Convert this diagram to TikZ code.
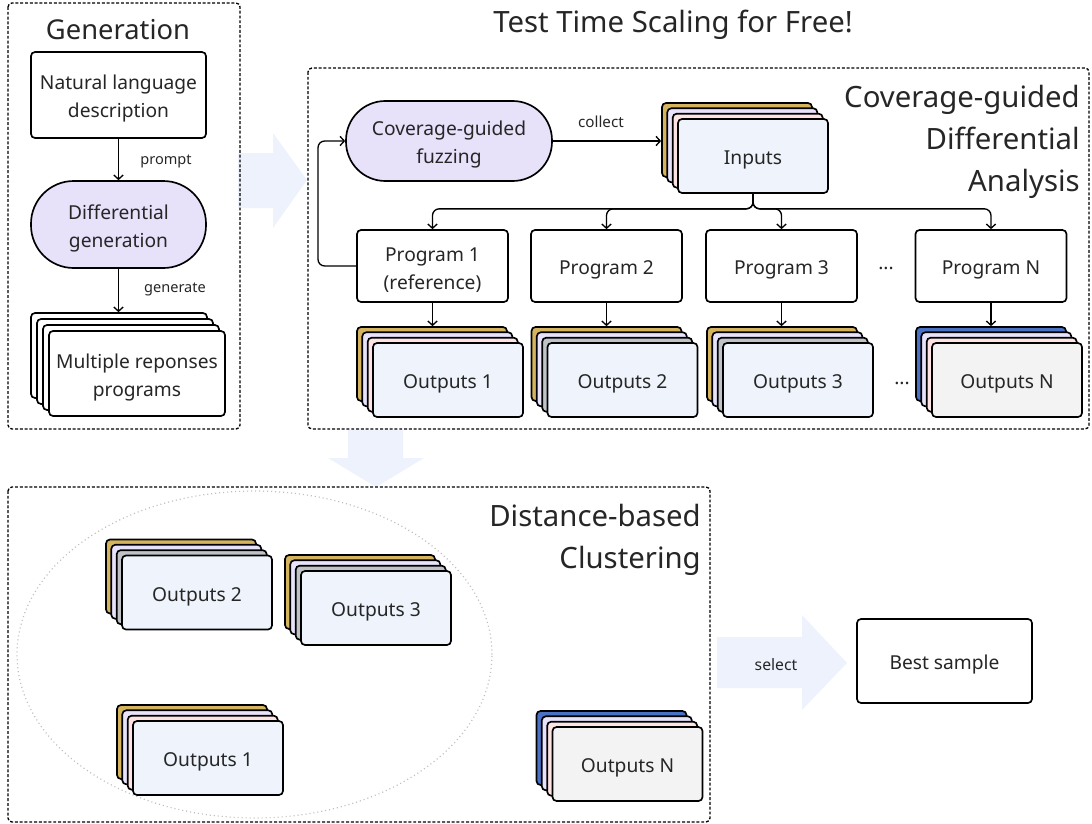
\documentclass[tikz,border=0pt]{standalone}
\usepackage{fontspec}
\setmainfont{Noto Sans}
\usetikzlibrary{arrows.meta}
\definecolor{txt}{HTML}{262626}
\definecolor{gold}{HTML}{D4B45E}
\definecolor{lav}{HTML}{E8E2FA}
\definecolor{pinkl}{HTML}{FDE3E3}
\definecolor{grayl}{HTML}{BFC2C7}
\definecolor{bluel}{HTML}{4A72C4}
\definecolor{front}{HTML}{EEF3FC}
\definecolor{frontg}{HTML}{F3F3F3}
\definecolor{stad}{HTML}{E7E1FA}
\definecolor{bigarrow}{HTML}{EEF2FC}
\newcommand{\boxfont}{\fontsize{14.4}{21}\selectfont}
\newcommand{\lblfont}{\fontsize{10.9}{12}\selectfont}
\newcommand{\ttlfont}{\fontsize{22}{31.5}\selectfont}
\newcommand{\mystrut}{\rule{0pt}{16.6pt}}
% stack: name, cx, cy (front centre), back colour, mid colour, third colour, front colour, text
\newcommand{\outstack}[8]{%
  \node[layer, fill=#4] (#1b) at (#2-16,#3-16) {};
  \node[layer, fill=#5] at (#2-10.7,#3-10.7) {};
  \node[layer, fill=#6] at (#2-5.3,#3-5.3) {};
  \node[layer, fill=#7] (#1) at (#2,#3) {\mystrut #8};
}
\begin{document}
\begin{tikzpicture}[x=0.75pt,y=-0.75pt,
  every node/.style={text=txt},
  panel/.style={draw=black, line width=1pt, dash pattern=on 2.2pt off 1.4pt, rounded corners=3pt},
  layer/.style={draw=black, line width=1.25pt, rounded corners=3pt, minimum width=112.5pt, minimum height=55.5pt, inner sep=0pt, font=\boxfont},
  mlayer/.style={draw=black, fill=white, line width=1.25pt, rounded corners=3pt, minimum width=132pt, minimum height=63.75pt, inner sep=0pt, font=\boxfont, align=center},
  wbox/.style={draw=black, fill=white, line width=1.25pt, rounded corners=3pt, inner sep=0pt, font=\boxfont, align=center},
  stadium/.style={draw=black, fill=stad, line width=1.25pt, inner sep=0pt, font=\boxfont, align=center},
  arr/.style={draw=black, line width=1pt, -{Straight Barb[length=3.2pt,width=7pt,line width=1pt]}},
  lbl/.style={font=\lblfont, inner sep=0pt},
  bigarr/.style={fill=bigarrow, draw=none}
]
\useasboundingbox (0,0) rectangle (1092,824);

% big pale arrows
\fill[bigarr] (238,153) -- (273,153) -- (273,133) -- (307,180) -- (273,228) -- (273,208) -- (238,208) -- cycle;
\fill[bigarr] (348,430) -- (403,430) -- (403,458) -- (424,458) -- (376,487) -- (328,458) -- (348,458) -- cycle;
\fill[bigarr] (717,637) -- (802,637) -- (802,615) -- (847,663) -- (802,710) -- (802,688) -- (717,688) -- cycle;

% panels
\draw[panel] (8,3) rectangle (240,429);
\draw[panel] (308,68) rectangle (1089,429);
\draw[panel] (8,487) rectangle (710,822);

% titles
\node[font=\fontsize{20.5}{30}\selectfont, inner sep=0pt] (tgen) at (118,30) {Generation};
\node[font=\ttlfont, inner sep=0pt] (tmain) at (673,25) {Test Time Scaling for Free!};
\node[font=\ttlfont, inner sep=0pt, align=right, anchor=north east] (tcov) at (1080,85) {Coverage-guided\\Differential\\Analysis};
\node[font=\ttlfont, inner sep=0pt, align=right, anchor=north east] (tclu) at (701,504) {Distance-based\\Clustering};

% Generation panel
\node[wbox, minimum width=131.25pt, minimum height=64.5pt] (nl) at (118.5,95) {\mystrut Natural language\\description};
\node[stadium, minimum width=131.25pt, minimum height=65.25pt, rounded corners=32pt] (dg) at (118.5,224.5) {\mystrut Differential\\generation};
\node[mlayer] (mrb) at (119,355.5) {};
\node[mlayer] at (125,361.5) {};
\node[mlayer] at (131,367.5) {};
\node[mlayer] (mr) at (137,373.5) {\mystrut Multiple reponses\\programs};
\draw[arr] (nl.south) -- (dg.north);
\node[lbl] (lprompt) at (166,161) {prompt};
\draw[arr] (dg.south) -- (dg.south |- mrb.north);
\node[lbl] (lgen) at (175,289) {generate};

% Analysis panel
\node[stadium, minimum width=154.5pt, minimum height=60pt, rounded corners=29.5pt] (fz) at (449,141) {\mystrut Coverage-guided\\fuzzing};
\outstack{inp}{753}{156}{gold}{lav}{pinkl}{front}{Inputs}
\draw[arr] (fz.east) -- (fz.east -| inpb.west);
\node[lbl, font=\fontsize{11.4}{13}\selectfont] (lcollect) at (601,122) {collect};

\node[wbox, minimum width=113.25pt, minimum height=54pt] (p1) at (432.5,266) {\mystrut Program 1\\(reference)};
\node[wbox, minimum width=113.25pt, minimum height=54pt] (p2) at (606.5,266) {\mystrut Program 2};
\node[wbox, minimum width=113.25pt, minimum height=54pt] (p3) at (781.5,266) {\mystrut Program 3};
\node[wbox, minimum width=113.25pt, minimum height=54pt] (pn) at (991,266) {\mystrut Program N};
\node[font=\boxfont, inner sep=0pt] (dots1) at (886,268) {...};

\foreach \p in {p1,p2,p3,pn}{
  \draw[arr, rounded corners=5pt] (inp.south) -- ++(0,15) -| (\p.north);
}
\draw[arr, rounded corners=5pt] (p1.west) -| (318,160) |- (fz.west);

\outstack{oa}{448}{380}{gold}{lav}{pinkl}{front}{Outputs 1}
\outstack{ob}{622.5}{380}{gold}{lav}{grayl}{front}{Outputs 2}
\outstack{oc}{798}{380}{gold}{lav}{grayl}{front}{Outputs 3}
\outstack{on}{1007}{380}{bluel}{lav}{pinkl}{frontg}{Outputs N}
\node[font=\boxfont, inner sep=0pt] (dots2) at (902,383) {...};
\draw[arr] (p1.south) -- (p1.south |- oab.north);
\draw[arr] (p2.south) -- (p2.south |- obb.north);
\draw[arr] (p3.south) -- (p3.south |- ocb.north);
\draw[arr] (pn.south) -- (pn.south |- onb.north);

% Clustering panel
\draw[draw=black!25, line width=0.9pt, dash pattern=on 0.8pt off 2.2pt] (254.5,654.5) ellipse [x radius=178.1pt, y radius=122.6pt];
\outstack{cb}{197}{592.5}{gold}{lav}{grayl}{front}{Outputs 2}
\outstack{cc}{376}{608}{gold}{lav}{grayl}{front}{Outputs 3}
\outstack{ca}{208}{758}{gold}{lav}{pinkl}{front}{Outputs 1}
\outstack{cn}{627.5}{764}{bluel}{lav}{pinkl}{frontg}{Outputs N}

\node[lbl, font=\fontsize{11.8}{13}\selectfont] (lselect) at (776,665) {select};
\node[wbox, minimum width=131.25pt, minimum height=63pt] (best) at (944.5,661) {\mystrut Best sample};
\end{tikzpicture}
\end{document}
